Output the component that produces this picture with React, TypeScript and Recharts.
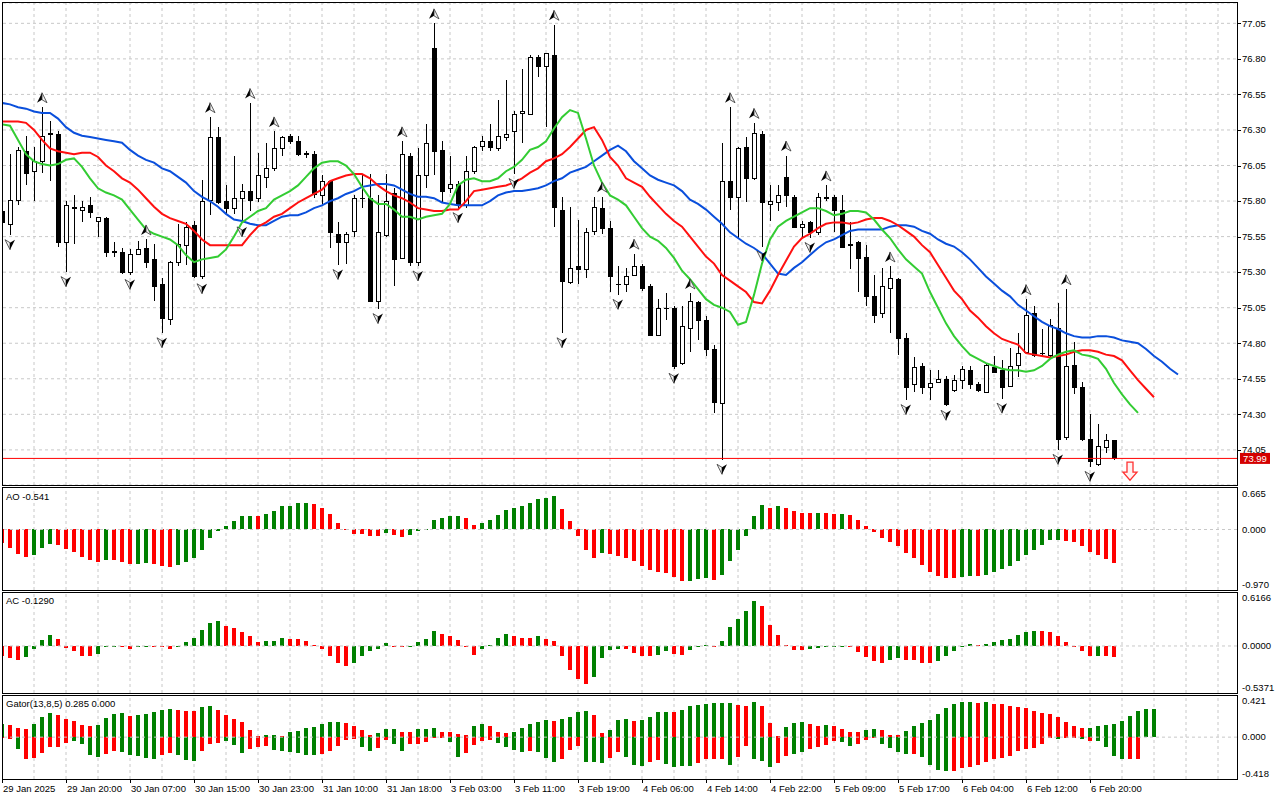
import React from 'react';
import { ComposedChart, Bar, Line, Scatter, XAxis, YAxis, CartesianGrid, ReferenceLine } from 'recharts';

// ---- price candles (hourly), one entry per bar ----
const opens = [
  75.73, 75.64, 75.81, 76.15, 76.01, 76.08, 76.27, 76.27, 75.51, 75.75,
  75.74, 75.77, 75.66, 75.68, 75.44, 75.44, 75.30, 75.43, 75.47, 75.39,
  75.22, 74.97, 75.37, 75.49, 75.63, 75.27, 75.81, 76.25, 75.80, 75.75,
  75.82, 75.87, 75.82, 75.97, 76.03, 76.17, 76.26, 76.22, 76.13, 76.13,
  75.84, 75.94, 75.57, 75.51, 75.59, 75.82, 75.82, 75.10, 75.56, 75.86,
  75.40, 76.12, 75.37, 75.98, 76.88, 76.16, 75.89, 75.92, 75.77, 76.01,
  76.19, 76.22, 76.17, 76.25, 76.29, 76.42, 76.41, 76.81, 76.75, 76.83,
  75.74, 75.23, 75.34, 75.32, 75.59, 75.75, 75.61, 75.22, 75.22, 75.28,
  75.34, 75.20, 74.86, 75.05, 75.05, 74.66, 74.91, 75.09, 74.96, 74.76,
  74.38, 75.94, 75.83, 76.18, 75.96, 76.27, 75.78, 75.79, 75.97, 75.83,
  75.62, 75.65, 75.58, 75.82, 75.83, 75.74, 75.49, 75.51, 75.41, 75.13,
  75.01, 75.19, 75.25, 74.84, 74.51, 74.64, 74.49, 74.53, 74.55, 74.47,
  74.54, 74.61, 74.51, 74.46, 74.63, 74.61, 74.50, 74.65, 74.74, 75.01,
  74.73, 74.72, 74.91, 74.14, 74.65, 74.49, 74.13, 73.95, 74.07, 74.12,
];
const highs = [
  75.74, 76.13, 76.18, 76.26, 76.18, 76.46, 76.36, 76.29, 75.80, 75.84,
  75.80, 75.83, 75.69, 75.69, 75.51, 75.47, 75.46, 75.52, 75.53, 75.50,
  75.26, 75.38, 75.64, 75.65, 75.66, 75.95, 76.39, 76.32, 75.91, 76.12,
  75.92, 76.49, 76.14, 76.21, 76.29, 76.26, 76.27, 76.26, 76.15, 76.15,
  75.98, 75.95, 75.65, 75.58, 75.84, 75.99, 75.99, 75.84, 75.99, 75.89,
  76.22, 76.14, 76.17, 76.34, 77.05, 76.22, 76.12, 75.94, 76.12, 76.19,
  76.26, 76.34, 76.51, 76.65, 76.43, 76.73, 76.83, 76.83, 76.84, 77.04,
  75.83, 75.76, 75.67, 75.61, 75.83, 75.83, 75.66, 75.34, 75.33, 75.43,
  75.36, 75.22, 75.11, 75.15, 75.06, 75.06, 75.15, 75.10, 74.99, 74.79,
  76.21, 76.46, 76.18, 76.25, 76.35, 76.29, 75.91, 75.91, 76.12, 75.84,
  75.66, 75.66, 75.86, 75.91, 75.84, 75.84, 75.65, 75.52, 75.49, 75.28,
  75.33, 75.34, 75.26, 74.87, 74.70, 74.66, 74.61, 74.61, 74.57, 74.58,
  74.64, 74.64, 74.53, 74.66, 74.71, 74.68, 74.77, 74.87, 75.11, 75.06,
  74.90, 74.97, 75.08, 75.18, 74.81, 74.53, 74.30, 74.23, 74.16, 74.12,
];
const lows = [
  75.63, 75.56, 75.77, 75.91, 75.80, 76.00, 75.94, 75.48, 75.30, 75.50,
  75.65, 75.68, 75.55, 75.41, 75.41, 75.29, 75.28, 75.42, 75.33, 75.10,
  74.87, 74.93, 75.34, 75.35, 75.26, 75.25, 75.70, 75.78, 75.71, 75.71,
  75.65, 75.73, 75.79, 75.89, 76.01, 76.12, 76.20, 76.12, 76.10, 75.82,
  75.78, 75.47, 75.35, 75.36, 75.55, 75.75, 75.09, 75.04, 75.55, 75.20,
  75.39, 75.34, 75.34, 75.89, 75.98, 75.79, 75.86, 75.75, 75.75, 75.99,
  76.15, 76.15, 76.15, 76.22, 75.99, 76.21, 76.41, 76.67, 76.32, 75.62,
  74.87, 75.22, 75.22, 75.26, 75.56, 75.57, 75.16, 75.14, 75.16, 75.27,
  75.17, 74.85, 74.85, 74.96, 74.62, 74.65, 74.74, 74.82, 74.71, 74.31,
  73.98, 75.74, 75.53, 75.79, 75.95, 75.48, 75.66, 75.73, 75.76, 75.61,
  75.55, 75.54, 75.56, 75.80, 75.58, 75.47, 75.32, 75.16, 75.06, 74.94,
  74.98, 74.87, 74.72, 74.40, 74.46, 74.44, 74.40, 74.52, 74.36, 74.46,
  74.48, 74.48, 74.46, 74.46, 74.60, 74.41, 74.49, 74.56, 74.73, 74.70,
  74.70, 74.69, 74.05, 74.12, 74.44, 74.11, 73.93, 73.94, 74.03, 73.98,
];
const closes = [
  75.65, 75.81, 76.16, 76.00, 76.08, 76.26, 76.28, 75.51, 75.77, 75.76,
  75.76, 75.72, 75.69, 75.44, 75.45, 75.30, 75.43, 75.46, 75.37, 75.20,
  74.98, 75.37, 75.50, 75.62, 75.27, 75.80, 76.25, 75.79, 75.75, 75.82,
  75.87, 75.81, 75.98, 76.03, 76.17, 76.25, 76.22, 76.13, 76.14, 75.85,
  75.94, 75.58, 75.51, 75.57, 75.82, 75.82, 75.10, 75.58, 75.80, 75.39,
  76.13, 75.37, 75.98, 76.21, 76.15, 75.87, 75.92, 75.77, 76.01, 76.18,
  76.22, 76.18, 76.26, 76.27, 76.41, 76.43, 76.81, 76.75, 76.84, 75.76,
  75.24, 75.33, 75.32, 75.58, 75.76, 75.61, 75.27, 75.22, 75.27, 75.34,
  75.19, 74.86, 75.05, 75.05, 74.64, 74.92, 75.10, 74.96, 74.76, 74.39,
  75.94, 75.83, 76.17, 75.96, 76.28, 75.79, 75.80, 75.84, 75.84, 75.62,
  75.64, 75.58, 75.83, 75.83, 75.74, 75.48, 75.50, 75.40, 75.13, 75.00,
  75.20, 75.26, 74.84, 74.49, 74.63, 74.49, 74.52, 74.55, 74.37, 74.54,
  74.62, 74.51, 74.47, 74.65, 74.60, 74.49, 74.64, 74.73, 75.00, 74.72,
  74.73, 74.93, 74.13, 74.64, 74.49, 74.13, 73.97, 74.08, 74.12, 73.99,
];

// ---- Alligator (jaw shifted 8 bars, teeth 5, lips 3) ----
const jaw = [
  76.49, 76.48, 76.46, 76.45, 76.43, 76.42, 76.42, 76.38, 76.32, 76.28,
  76.26, 76.25, 76.24, 76.23, 76.22, 76.21, 76.16, 76.12, 76.09, 76.07,
  76.03, 76.01, 75.97, 75.93, 75.87, 75.83, 75.80, 75.76, 75.71, 75.67,
  75.66, 75.64, 75.63, 75.63, 75.66, 75.69, 75.70, 75.70, 75.72, 75.75,
  75.77, 75.80, 75.82, 75.85, 75.87, 75.90, 75.91, 75.92, 75.92, 75.91,
  75.88, 75.85, 75.83, 75.83, 75.82, 75.79, 75.78, 75.77, 75.77, 75.77,
  75.77, 75.80, 75.84, 75.86, 75.87, 75.87, 75.88, 75.89, 75.91, 75.94,
  75.96, 76.00, 76.02, 76.04, 76.08, 76.12, 76.16, 76.19, 76.15, 76.08,
  76.03, 75.98, 75.95, 75.93, 75.91, 75.87, 75.81, 75.78, 75.74, 75.69,
  75.64, 75.58, 75.54, 75.50, 75.47, 75.43, 75.36, 75.29, 75.28, 75.33,
  75.37, 75.42, 75.47, 75.51, 75.53, 75.56, 75.59, 75.60, 75.60, 75.60,
  75.60, 75.62, 75.63, 75.63, 75.62, 75.59, 75.57, 75.53, 75.50, 75.48,
  75.44, 75.39, 75.33, 75.27, 75.22, 75.17, 75.13, 75.07, 75.03, 74.99,
  74.95, 74.92, 74.90, 74.87, 74.85, 74.84, 74.84, 74.85, 74.85, 74.84,
  74.82, 74.81, 74.80, 74.76, 74.71, 74.67, 74.62, 74.58,
];
const teeth = [
  76.36, 76.36, 76.36, 76.35, 76.30, 76.23, 76.17, 76.15, 76.14, 76.13,
  76.14, 76.14, 76.11, 76.05, 76.01, 75.96, 75.93, 75.88, 75.82, 75.76,
  75.71, 75.68, 75.66, 75.64, 75.59, 75.53, 75.49, 75.49, 75.49, 75.49,
  75.49, 75.56, 75.62, 75.65, 75.69, 75.71, 75.75, 75.79, 75.82, 75.85,
  75.88, 75.94, 75.96, 75.98, 75.99, 75.99, 75.96, 75.91, 75.87, 75.84,
  75.82, 75.79, 75.75, 75.74, 75.73, 75.73, 75.74, 75.74, 75.80, 75.87,
  75.88, 75.89, 75.90, 75.91, 75.93, 75.96, 76.00, 76.03, 76.08, 76.10,
  76.13, 76.18, 76.24, 76.30, 76.32, 76.23, 76.11, 76.05, 75.96, 75.93,
  75.90, 75.83, 75.77, 75.71, 75.66, 75.62, 75.55, 75.48, 75.41, 75.36,
  75.28, 75.24, 75.20, 75.16, 75.09, 75.08, 75.17, 75.28, 75.38, 75.48,
  75.54, 75.57, 75.61, 75.64, 75.65, 75.65, 75.64, 75.65, 75.67, 75.68,
  75.68, 75.66, 75.63, 75.59, 75.55, 75.49, 75.44, 75.35, 75.26, 75.17,
  75.11, 75.03, 74.98, 74.92, 74.87, 74.83, 74.81, 74.79, 74.73, 74.72,
  74.71, 74.70, 74.71, 74.72, 74.74, 74.75, 74.75, 74.74, 74.72, 74.71,
  74.68, 74.61, 74.54, 74.48, 74.42,
];
const lips = [
  76.34, 76.33, 76.23, 76.13, 76.08, 76.06, 76.05, 76.06, 76.09, 76.10,
  76.04, 75.96, 75.89, 75.86, 75.84, 75.81, 75.74, 75.67, 75.60, 75.57,
  75.55, 75.53, 75.49, 75.42, 75.37, 75.39, 75.40, 75.41, 75.46, 75.55,
  75.65, 75.69, 75.73, 75.75, 75.81, 75.84, 75.87, 75.91, 75.97, 76.03,
  76.07, 76.08, 76.08, 76.05, 75.99, 75.90, 75.82, 75.78, 75.78, 75.74,
  75.69, 75.69, 75.67, 75.69, 75.70, 75.71, 75.78, 75.91, 75.95, 75.96,
  75.94, 75.94, 75.96, 76.01, 76.04, 76.09, 76.16, 76.18, 76.22, 76.31,
  76.39, 76.44, 76.42, 76.24, 76.05, 75.93, 75.84, 75.81, 75.77, 75.69,
  75.61, 75.55, 75.52, 75.47, 75.40, 75.31, 75.25, 75.18, 75.11, 75.07,
  75.05, 75.02, 74.93, 74.95, 75.14, 75.36, 75.53, 75.62, 75.66, 75.69,
  75.72, 75.75, 75.75, 75.73, 75.70, 75.71, 75.73, 75.73, 75.72, 75.67,
  75.60, 75.54, 75.46, 75.39, 75.34, 75.29, 75.16, 75.05, 74.94, 74.85,
  74.78, 74.72, 74.69, 74.66, 74.64, 74.62, 74.61, 74.61, 74.60, 74.61,
  74.64, 74.69, 74.72, 74.74, 74.75, 74.72, 74.71, 74.69, 74.62, 74.52,
  74.44, 74.37, 74.31,
];

// ---- fractals (bar indices) ----
const upFractals = [5, 18, 26, 31, 34, 50, 54, 69, 75, 79, 86, 91, 94, 98, 103, 111, 128, 133];
const downFractals = [1, 8, 16, 20, 25, 30, 42, 47, 52, 57, 64, 70, 77, 84, 90, 95, 101, 113, 118, 125, 132, 136];
const sellSignal = [{ i: 141, v: 73.9 }];

// ---- Awesome Oscillator ----
const ao = [
  -0.21, -0.30, -0.40, -0.44, -0.41, -0.30, -0.24, -0.25, -0.32, -0.36,
  -0.44, -0.49, -0.52, -0.49, -0.49, -0.52, -0.56, -0.56, -0.54, -0.56,
  -0.59, -0.60, -0.57, -0.52, -0.46, -0.33, -0.14, -0.03, 0.05, 0.14,
  0.21, 0.22, 0.22, 0.25, 0.30, 0.37, 0.38, 0.43, 0.43, 0.41,
  0.35, 0.25, 0.11, -0.01, -0.08, -0.08, -0.11, -0.11, -0.06, -0.09,
  -0.12, -0.09, -0.02, 0.01, 0.16, 0.18, 0.21, 0.22, 0.18, 0.07,
  0.10, 0.15, 0.24, 0.32, 0.34, 0.37, 0.43, 0.49, 0.51, 0.53,
  0.33, 0.13, -0.11, -0.33, -0.46, -0.38, -0.40, -0.43, -0.46, -0.51,
  -0.59, -0.65, -0.68, -0.70, -0.76, -0.82, -0.82, -0.80, -0.78, -0.81,
  -0.73, -0.51, -0.33, -0.10, 0.22, 0.39, 0.35, 0.37, 0.35, 0.30,
  0.27, 0.27, 0.27, 0.27, 0.25, 0.25, 0.24, 0.16, 0.06, -0.04,
  -0.13, -0.20, -0.27, -0.38, -0.46, -0.57, -0.68, -0.74, -0.77, -0.77,
  -0.76, -0.74, -0.74, -0.73, -0.68, -0.63, -0.58, -0.50, -0.41, -0.33,
  -0.25, -0.17, -0.17, -0.19, -0.20, -0.27, -0.36, -0.41, -0.47, -0.541,
];
const aoColors =
  'rrrrgggrrr' + 'rrrgrrrggr' + 'rrgggggggg' + 'ggrggggggr' + 'rrrrrrrrgr' +
  'rgggggggrr' + 'gggggggggg' + 'rrrrrgrrrr' + 'rrrrrrgggr' + 'ggggggrgrr' +
  'rrgrrgrrrr' + 'rrrrrrrrrr' + 'ggrggggggg' + 'gggrrrrrrr';

// ---- Accelerator Oscillator ----
const ac = [
  -0.11, -0.14, -0.16, -0.13, -0.04, 0.07, 0.12, 0.08, -0.02, -0.06,
  -0.11, -0.12, -0.09, -0.015, 0.004, -0.01, -0.04, -0.01, 0.003, -0.005,
  -0.015, -0.03, 0.003, 0.05, 0.09, 0.18, 0.26, 0.28, 0.23, 0.21,
  0.16, 0.11, 0.05, 0.06, 0.06, 0.09, 0.08, 0.08, 0.06, 0.01,
  -0.04, -0.12, -0.19, -0.23, -0.19, -0.11, -0.06, -0.03, 0.03, -0.005,
  -0.015, 0.002, 0.05, 0.08, 0.17, 0.14, 0.11, 0.07, -0.015, -0.10,
  -0.04, 0.01, 0.09, 0.14, 0.11, 0.09, 0.09, 0.11, 0.08, 0.06,
  -0.12, -0.27, -0.38, -0.43, -0.36, -0.14, -0.05, -0.03, -0.03, -0.08,
  -0.11, -0.12, -0.10, -0.06, -0.09, -0.10, -0.05, -0.01, 0.01, -0.005,
  0.06, 0.22, 0.31, 0.40, 0.51, 0.46, 0.24, 0.12, 0.01, -0.05,
  -0.05, -0.04, -0.02, -0.005, -0.003, 0.002, -0.01, -0.07, -0.13, -0.17,
  -0.19, -0.16, -0.14, -0.16, -0.16, -0.19, -0.20, -0.17, -0.12, -0.06,
  0.003, 0.02, 0.01, 0.02, 0.05, 0.07, 0.08, 0.12, 0.16, 0.17,
  0.17, 0.16, 0.11, 0.04, -0.003, -0.06, -0.12, -0.11, -0.12, -0.129,
];
const acColors =
  'rrrggggrrr' + 'rrgggrrggr' + 'rrggggggrr' + 'rrrgggrrrr' + 'rrrrgggggr' +
  'rggggrrrrr' + 'ggggrrrgrr' + 'rrrrggggrr' + 'rrggrrgggr' + 'gggggrrrrr' +
  'rgggggrrrr' + 'rggrrrrggg' + 'ggrggggggg' + 'rrrrrrrgrr';

// ---- Gator (13,8,5): upper |jaw-teeth|, lower |teeth-lips| ----
const gatorUp = [
  0.13, 0.12, 0.09, 0.08, 0.13, 0.20, 0.24, 0.22, 0.18, 0.16,
  0.12, 0.11, 0.12, 0.19, 0.23, 0.24, 0.21, 0.22, 0.23, 0.25,
  0.27, 0.28, 0.27, 0.26, 0.26, 0.30, 0.31, 0.27, 0.22, 0.18,
  0.15, 0.07, 0.01, 0.02, 0.02, 0.01, 0.05, 0.06, 0.09, 0.10,
  0.13, 0.15, 0.15, 0.14, 0.11, 0.07, 0.02, 0.04, 0.08, 0.08,
  0.05, 0.05, 0.08, 0.08, 0.09, 0.05, 0.05, 0.03, 0.02, 0.11,
  0.13, 0.11, 0.05, 0.04, 0.05, 0.09, 0.13, 0.15, 0.17, 0.16,
  0.18, 0.20, 0.25, 0.26, 0.22, 0.04, 0.07, 0.17, 0.18, 0.16,
  0.17, 0.20, 0.25, 0.25, 0.25, 0.27, 0.31, 0.32, 0.33, 0.34,
  0.34, 0.34, 0.32, 0.31, 0.35, 0.31, 0.14, 0.01, 0.10, 0.14,
  0.15, 0.13, 0.11, 0.12, 0.11, 0.08, 0.05, 0.05, 0.07, 0.08,
  0.07, 0.02, 0.02, 0.06, 0.11, 0.14, 0.17, 0.23, 0.29, 0.33,
  0.35, 0.35, 0.34, 0.35, 0.33, 0.33, 0.31, 0.30, 0.29, 0.26,
  0.24, 0.23, 0.20, 0.15, 0.11, 0.09, 0.09, 0.11, 0.12, 0.13,
  0.16, 0.21, 0.26, 0.28, 0.285,
];
const gatorUpColors =
  'grrrgggrrr' + 'rrggggrggg' + 'ggrrrggrrr' + 'rrrggrgggg' + 'gggrrrrggg' +
  'rrgggrrrrg' + 'grrrgggggr' + 'ggggrrgggr' + 'ggggrggggg' + 'ggrrgrrrgg' +
  'grrgrrrrgg' + 'rrrggggggg' + 'ggrgrrrrrr' + 'rrrrrrgggg' + 'ggggg';
const gatorDown = [
  0.01, 0.02, 0.12, 0.22, 0.21, 0.16, 0.10, 0.10, 0.06, 0.04,
  0.07, 0.18, 0.20, 0.17, 0.14, 0.15, 0.18, 0.19, 0.21, 0.22,
  0.18, 0.16, 0.18, 0.23, 0.24, 0.14, 0.07, 0.06, 0.04, 0.08,
  0.16, 0.12, 0.10, 0.09, 0.13, 0.14, 0.15, 0.16, 0.18, 0.18,
  0.17, 0.14, 0.09, 0.03, 0.02, 0.10, 0.14, 0.11, 0.03, 0.07,
  0.14, 0.07, 0.07, 0.05, 0.01, 0.01, 0.05, 0.20, 0.16, 0.08,
  0.04, 0.03, 0.06, 0.10, 0.13, 0.15, 0.14, 0.15, 0.21, 0.25,
  0.22, 0.13, 0.09, 0.25, 0.25, 0.26, 0.21, 0.15, 0.20, 0.28,
  0.29, 0.25, 0.23, 0.27, 0.30, 0.29, 0.29, 0.26, 0.22, 0.22,
  0.22, 0.28, 0.20, 0.09, 0.22, 0.24, 0.30, 0.26, 0.19, 0.17,
  0.15, 0.12, 0.10, 0.08, 0.04, 0.05, 0.09, 0.07, 0.03, 0.01,
  0.07, 0.11, 0.15, 0.17, 0.17, 0.20, 0.28, 0.33, 0.34, 0.34,
  0.31, 0.30, 0.28, 0.25, 0.22, 0.21, 0.19, 0.14, 0.12, 0.11,
  0.07, 0.01, 0.02, 0.01, 0.005, 0.02, 0.04, 0.04, 0.10, 0.19,
  0.22, 0.22, 0.22, 0.0,
];
const gatorDownColors =
  'rrgrrrrrrg' + 'gggrrggggg' + 'rrgggrrrgg' + 'grrrgggggg' + 'rrrrrggrrg' +
  'grrrrrggrr' + 'rrggggrggg' + 'rrrgggrrgg' + 'grrggggrrr' + 'rgrrgggrrg' +
  'grrrrggrrr' + 'ggggrggggr' + 'rrrrrrrrrr' + 'rrgrrgrggg' + 'grrr';

// ---- axes ----
const priceTicks = [74.05, 74.3, 74.55, 74.8, 75.05, 75.3, 75.55, 75.8, 76.05, 76.3, 76.55, 76.8, 77.05];
const timeTickIdx = [0, 8, 16, 24, 32, 40, 48, 56, 64, 72, 80, 88, 96, 104, 112, 120, 128, 136];
const timeLabels = [
  '29 Jan 2025', '29 Jan 20:00', '30 Jan 07:00', '30 Jan 15:00', '30 Jan 23:00', '31 Jan 10:00',
  '31 Jan 18:00', '3 Feb 03:00', '3 Feb 11:00', '3 Feb 19:00', '4 Feb 06:00', '4 Feb 14:00',
  '4 Feb 22:00', '5 Feb 09:00', '5 Feb 17:00', '6 Feb 04:00', '6 Feb 12:00', '6 Feb 20:00',
];
const gridIdx = [
  4, 8, 12, 16, 20, 24, 28, 32, 36, 40, 44, 48, 52, 56, 60, 64, 68, 72, 76,
  80, 84, 88, 92, 96, 100, 104, 108, 112, 116, 120, 124, 128, 132, 136, 140, 144, 148, 152,
];

const FONT = '"Liberation Sans", Arial, Helvetica, sans-serif';
const FS = 9.5;
const RIGHT = 1237;
const X_DOMAIN: [number, number] = [0.125, 154.375];
const GREEN = '#008000';
const RED = '#ff0000';
const GRID = '#c8c8c8';

const rows = jaw.map((_, i) => ({
  i,
  o: opens[i],
  h: highs[i],
  l: lows[i],
  c: closes[i],
  jaw: jaw[i],
  teeth: teeth[i],
  lips: lips[i],
  ao: ao[i],
  aoC: aoColors[i],
  ac: ac[i],
  acC: acColors[i],
  gu: gatorUp[i] ?? 0,
  guC: gatorUpColors[i],
  gd: gatorDown[i] != null ? -gatorDown[i] : 0,
  gdC: gatorDownColors[i],
}));

const upPts = upFractals.map((i) => ({ i, v: highs[i] }));
const downPts = downFractals.map((i) => ({ i, v: lows[i] }));
const lastClose = closes[closes.length - 1];

function CandleShape(props: any) {
  const { x, y, width, height, payload } = props;
  if (!payload || payload.o == null || !isFinite(y)) return null;
  const top = Math.min(y, y + height);
  const bottom = Math.max(y, y + height);
  const cx = Math.round(x + width / 2);
  const { o, h, l, c } = payload;
  const span = h - l || 1;
  const py = (v: number) => top + ((h - v) / span) * (bottom - top);
  const bTop = Math.round(py(Math.max(o, c)));
  const bBot = Math.round(py(Math.min(o, c)));
  return (
    <g shapeRendering="crispEdges">
      <line x1={cx + 0.5} x2={cx + 0.5} y1={top} y2={bottom} stroke="#000" />
      {bBot - bTop < 1 ? (
        <line x1={cx - 2} x2={cx + 3} y1={bTop + 0.5} y2={bTop + 0.5} stroke="#000" />
      ) : (
        <rect x={cx - 1.5} y={bTop + 0.5} width={4} height={bBot - bTop} fill={c > o ? '#fff' : '#000'} stroke="#000" />
      )}
    </g>
  );
}

const histShape = (valKey: string, colKey: string) => (props: any) => {
  const { x, y, width, height, payload } = props;
  if (!payload || !payload[valKey] || !isFinite(y) || !isFinite(height)) return null;
  const top = Math.min(y, y + height);
  const h = Math.max(Math.abs(height), 1);
  return (
    <rect x={Math.round(x)} y={top} width={width} height={h} fill={payload[colKey] === 'g' ? GREEN : RED} shapeRendering="crispEdges" />
  );
};

function UpFractal(props: any) {
  const { cx, cy } = props;
  const y = cy - 9;
  return (
    <g>
      <path d={`M${cx},${y - 5.5} L${cx - 5},${y + 4.5} L${cx},${y + 1.5} Z`} fill="#000" />
      <path d={`M${cx},${y - 5.5} L${cx + 5},${y + 4.5} L${cx},${y + 1.5} Z`} fill="#f2f2f2" stroke="#333" strokeWidth={0.8} />
    </g>
  );
}

function DownFractal(props: any) {
  const { cx, cy } = props;
  const y = cy + 9;
  return (
    <g>
      <path d={`M${cx},${y + 5.5} L${cx - 5},${y - 4.5} L${cx},${y - 1.5} Z`} fill="#f2f2f2" stroke="#333" strokeWidth={0.8} />
      <path d={`M${cx},${y + 5.5} L${cx + 5},${y - 4.5} L${cx},${y - 1.5} Z`} fill="#000" />
    </g>
  );
}

function SellArrow(props: any) {
  const { cx, cy } = props;
  return (
    <path
      d={`M${cx - 3},${cy - 9} H${cx + 3} V${cy + 1} H${cx + 7} L${cx},${cy + 9} L${cx - 7},${cy + 1} H${cx - 3} Z`}
      fill="#fff2f2"
      stroke="#ff3030"
      strokeWidth={1.3}
    />
  );
}

function PriceTag(props: any) {
  const vb = props.viewBox;
  if (!vb) return null;
  const x = vb.x + vb.width + 3;
  return (
    <g>
      <rect x={x} y={vb.y - 5.5} width={30} height={11} fill="#d40000" />
      <text x={x + 15} y={vb.y} dy="0.35em" textAnchor="middle" fill="#fff" fontSize={FS} fontFamily={FONT}>
        {lastClose.toFixed(2)}
      </text>
    </g>
  );
}

const sideTick = (digits: number, max: number, min: number, dash: boolean) => (props: any) => {
  const { y, payload } = props;
  const v = payload.value;
  const dy = v === max ? 5.5 : v === min ? -5.5 : 0;
  return (
    <g>
      {dash && <line x1={RIGHT} x2={RIGHT + 4} y1={y + 0.5} y2={y + 0.5} stroke="#000" shapeRendering="crispEdges" />}
      <text x={RIGHT + 5} y={y + dy} dy="0.35em" fontSize={FS} fontFamily={FONT} fill="#000">
        {v.toFixed(digits)}
      </text>
    </g>
  );
};

const GATOR_PLOT_BOTTOM = 85;
function TimeTick(props: any) {
  const { x, payload } = props;
  const label = timeLabels[timeTickIdx.indexOf(payload.value)];
  return (
    <g>
      <line x1={x + 0.5} x2={x + 0.5} y1={GATOR_PLOT_BOTTOM} y2={GATOR_PLOT_BOTTOM + 4} stroke="#000" shapeRendering="crispEdges" />
      <text x={x + 1} y={GATOR_PLOT_BOTTOM + 13} fontSize={FS} fontFamily={FONT} fill="#000">
        {label}
      </text>
    </g>
  );
}

const hiddenX = <XAxis dataKey="i" type="number" domain={X_DOMAIN} allowDataOverflow hide />;

// vertical dashed grid drawn in its own chart underneath each panel
function GridLayer({ top, height, mTop, mBottom }: { top: number; height: number; mTop: number; mBottom: number }) {
  return (
    <div style={{ position: 'absolute', left: 0, top }}>
      <ComposedChart width={1280} height={height} data={rows} margin={{ top: mTop, right: 43, bottom: mBottom, left: 3 }}>
        {hiddenX}
        <YAxis hide />
        <Line dataKey="i" stroke="none" dot={false} activeDot={false} isAnimationActive={false} />
        {gridIdx.map((k) => (
          <ReferenceLine key={`g${k}`} x={k} stroke={GRID} strokeDasharray="3 3" />
        ))}
      </ComposedChart>
    </div>
  );
}

function Box({ top, height }: { top: number; height: number }) {
  return (
    <div
      style={{
        position: 'absolute',
        left: 2,
        top,
        width: 1236,
        height,
        border: '1px solid #000',
        boxSizing: 'border-box',
        pointerEvents: 'none',
      }}
    />
  );
}

function Title({ top, text }: { top: number; text: string }) {
  return (
    <div style={{ position: 'absolute', left: 6, top, fontSize: FS, lineHeight: '12px', fontFamily: FONT, color: '#000' }}>
      {text}
    </div>
  );
}

export default function App() {
  return (
    <div style={{ position: 'absolute', left: 0, top: 0, width: 1280, height: 800, background: '#fff', overflow: 'hidden' }}>
      <GridLayer top={0} height={486} mTop={3} mBottom={1} />
      <GridLayer top={486} height={106} mTop={2} mBottom={2} />
      <GridLayer top={591} height={104} mTop={1} mBottom={2} />
      <GridLayer top={694} height={106} mTop={1} mBottom={21} />

      <div style={{ position: 'absolute', left: 0, top: 0 }}>
        <ComposedChart width={1280} height={486} data={rows} margin={{ top: 3, right: 0, bottom: 1, left: 3 }}>
          {hiddenX}
          <YAxis
            orientation="right"
            width={43}
            domain={[73.803, 77.193]}
            allowDataOverflow
            ticks={priceTicks}
            interval={0}
            axisLine={false}
            tickLine={false}
            tick={sideTick(2, 999, -999, true)}
          />
          <CartesianGrid vertical={false} stroke={GRID} strokeDasharray="3 3" />
          <Bar dataKey={(d: any) => (d.o == null ? null : [d.l, d.h])} barSize={5} shape={CandleShape} isAnimationActive={false} />
          <Line dataKey="jaw" type="linear" stroke="#0a4fdc" strokeWidth={2} dot={false} isAnimationActive={false} />
          <Line dataKey="teeth" type="linear" stroke="#ff1010" strokeWidth={2} dot={false} isAnimationActive={false} />
          <Line dataKey="lips" type="linear" stroke="#33cc33" strokeWidth={2} dot={false} isAnimationActive={false} />
          <Scatter data={upPts} dataKey="v" shape={UpFractal} isAnimationActive={false} />
          <Scatter data={downPts} dataKey="v" shape={DownFractal} isAnimationActive={false} />
          <Scatter data={sellSignal} dataKey="v" shape={SellArrow} isAnimationActive={false} />
          <ReferenceLine y={lastClose} stroke="#ff0000" strokeWidth={1} label={<PriceTag />} />
        </ComposedChart>
      </div>

      <div style={{ position: 'absolute', left: 0, top: 486 }}>
        <ComposedChart width={1280} height={106} data={rows} margin={{ top: 2, right: 0, bottom: 2, left: 3 }}>
          {hiddenX}
          <YAxis
            orientation="right"
            width={43}
            domain={[-0.97, 0.665]}
            allowDataOverflow
            ticks={[0.665, 0, -0.97]}
            interval={0}
            axisLine={false}
            tickLine={false}
            tick={sideTick(3, 0.665, -0.97, false)}
          />
          <ReferenceLine y={0} stroke={GRID} strokeDasharray="3 3" />
          <Bar dataKey="ao" barSize={4} shape={histShape('ao', 'aoC')} isAnimationActive={false} />
        </ComposedChart>
      </div>

      <div style={{ position: 'absolute', left: 0, top: 591 }}>
        <ComposedChart width={1280} height={104} data={rows} margin={{ top: 1, right: 0, bottom: 2, left: 3 }}>
          {hiddenX}
          <YAxis
            orientation="right"
            width={43}
            domain={[-0.5371, 0.6166]}
            allowDataOverflow
            ticks={[0.6166, 0, -0.5371]}
            interval={0}
            axisLine={false}
            tickLine={false}
            tick={sideTick(4, 0.6166, -0.5371, false)}
          />
          <ReferenceLine y={0} stroke={GRID} strokeDasharray="3 3" />
          <Bar dataKey="ac" barSize={4} shape={histShape('ac', 'acC')} isAnimationActive={false} />
        </ComposedChart>
      </div>

      <div style={{ position: 'absolute', left: 0, top: 694 }}>
        <ComposedChart width={1280} height={106} data={rows} stackOffset="sign" margin={{ top: 1, right: 0, bottom: 0, left: 3 }}>
          <XAxis
            dataKey="i"
            type="number"
            domain={X_DOMAIN}
            allowDataOverflow
            ticks={timeTickIdx}
            interval={0}
            height={21}
            axisLine={false}
            tickLine={false}
            tick={TimeTick}
          />
          <YAxis
            orientation="right"
            width={43}
            domain={[-0.418, 0.421]}
            allowDataOverflow
            ticks={[0.421, 0, -0.418]}
            interval={0}
            axisLine={false}
            tickLine={false}
            tick={sideTick(3, 0.421, -0.418, false)}
          />
          <ReferenceLine y={0} stroke={GRID} strokeDasharray="3 3" />
          <Bar dataKey="gu" stackId="g" barSize={4} shape={histShape('gu', 'guC')} isAnimationActive={false} />
          <Bar dataKey="gd" stackId="g" barSize={4} shape={histShape('gd', 'gdC')} isAnimationActive={false} />
        </ComposedChart>
      </div>

      <Box top={2} height={484} />
      <Box top={487} height={104} />
      <Box top={592} height={102} />
      <Box top={695} height={85} />

      <Title top={491} text={`AO ${ao[ao.length - 1].toFixed(3)}`} />
      <Title top={595} text={`AC ${ac[ac.length - 1].toFixed(4)}`} />
      <Title top={698} text="Gator(13,8,5) 0.285 0.000" />
    </div>
  );
}
